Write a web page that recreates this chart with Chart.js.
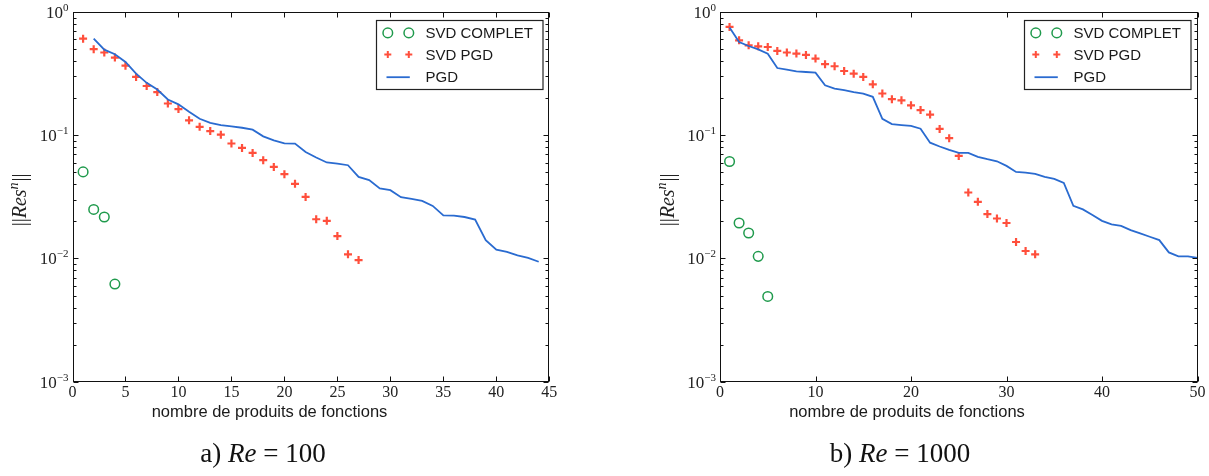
<!DOCTYPE html>
<html lang="fr">
<head>
<meta charset="UTF-8">
<title>Résidus SVD / PGD</title>
<script src="https://cdn.jsdelivr.net/npm/chart.js"></script>
<style>
    html, body { margin: 0; padding: 0; background: #fff; }
    body { width: 1209px; height: 476px; position: relative; overflow: hidden; }
    .panel { position: absolute; top: 0; height: 476px; }
    #panelA { left: 0; width: 600px; }
    #panelB { left: 600px; width: 609px; }
</style>
</head>
<body>

<div class="panel" id="panelA"><canvas id="chartA"></canvas></div>
<div class="panel" id="panelB"><canvas id="chartB"></canvas></div>

<script>
// a) Re = 100  (n starts at 1, PGD starts at 2)
const reA_svdComplet = [0.0504, 0.0250, 0.0217, 0.0062];
const reA_svdPgd = [0.608, 0.499, 0.469, 0.427, 0.367, 0.297, 0.251, 0.224, 0.181, 0.163,
                    0.132, 0.117, 0.108, 0.101, 0.0857, 0.0789, 0.0719, 0.0627, 0.0553, 0.0483,
                    0.0403, 0.0316, 0.0208, 0.0202, 0.0152, 0.0108, 0.0097];
const reA_pgd = [0.608, 0.495, 0.454, 0.393, 0.316, 0.266, 0.235, 0.195, 0.178, 0.155,
                 0.136, 0.126, 0.121, 0.118, 0.115, 0.111, 0.098, 0.091, 0.086, 0.0855,
                 0.0732, 0.0659, 0.0601, 0.0589, 0.0571, 0.0459, 0.0432, 0.0370, 0.0358, 0.0314,
                 0.0304, 0.0293, 0.0267, 0.0224, 0.0223, 0.0217, 0.0207, 0.0141, 0.0118, 0.0113,
                 0.0106, 0.0101, 0.0094];
const reA_pgdStart = 2;

// b) Re = 1000
const reB_svdComplet = [0.0612, 0.0194, 0.0161, 0.0104, 0.00492];
const reB_svdPgd = [0.756, 0.589, 0.537, 0.527, 0.520, 0.483, 0.469, 0.460, 0.448, 0.419,
                    0.377, 0.363, 0.332, 0.316, 0.297, 0.259, 0.218, 0.196, 0.192, 0.175,
                    0.160, 0.147, 0.1125, 0.0946, 0.0679, 0.0343, 0.0288, 0.0229, 0.0211, 0.0194,
                    0.0136, 0.0115, 0.0108];
const reB_pgd = [0.747, 0.571, 0.530, 0.498, 0.459, 0.351, 0.341, 0.330, 0.326, 0.322,
                 0.254, 0.239, 0.232, 0.224, 0.218, 0.205, 0.136, 0.123, 0.121, 0.119,
                 0.113, 0.087, 0.081, 0.0760, 0.0720, 0.0719, 0.0667, 0.0639, 0.0615, 0.0564,
                 0.0504, 0.0498, 0.0485, 0.0459, 0.0442, 0.0410, 0.0267, 0.0250, 0.0225, 0.0202,
                 0.0189, 0.0184, 0.0170, 0.0160, 0.0150, 0.0141, 0.0112, 0.0104, 0.0104, 0.0101];

const legendLabels = ['SVD COMPLET', 'SVD PGD', 'PGD'];
const yDecades = [0, -1, -2, -3];
const xTitle = 'nombre de produits de fonctions';

const GREEN = '#1f9a4c';
const RED = '#ff4f3c';
const BLUE = '#2a6bd0';
const SERIF = '"Liberation Serif", "DejaVu Serif", serif';
const SANS = '"Liberation Sans", Arial, sans-serif';

function pts(first, vals) {
    return vals.map((v, i) => ({ x: first + i, y: v }));
}

// axes box, inward ticks, tick labels with exponents, titles, legend
const decor = {
    id: 'decor',
    afterDraw(chart, args, o) {
        const ctx = chart.ctx;
        const a = chart.chartArea;
        const xs = chart.scales.x, ys = chart.scales.y;
        const L = Math.round(a.left) + 0.5, R = Math.round(a.right) - 0.5;
        const T = Math.round(a.top) + 0.5, B = Math.round(a.bottom) - 0.5;
        ctx.save();
        ctx.strokeStyle = '#111';
        ctx.lineWidth = 1;
        const seg = (x1, y1, x2, y2) => { ctx.beginPath(); ctx.moveTo(x1, y1); ctx.lineTo(x2, y2); ctx.stroke(); };

        for (let k = -3; k < 0; k++) {
            for (let m = 1; m < 10; m++) {
                const py = Math.round(ys.getPixelForValue(m * Math.pow(10, k))) + 0.5;
                const len = m === 1 ? 5 : 3;
                seg(L, py, L + len, py);
                seg(R - len, py, R, py);
            }
        }
        xs.ticks.forEach(t => {
            const px = Math.round(xs.getPixelForValue(t.value)) + 0.5;
            seg(px, B, px, B - 5);
            seg(px, T, px, T + 5);
        });
        ctx.strokeRect(L, T, R - L, B - T);

        // y tick labels 10^k
        ctx.fillStyle = '#222';
        ctx.textBaseline = 'alphabetic';
        ctx.textAlign = 'left';
        yDecades.forEach(k => {
            const py = ys.getPixelForValue(Math.pow(10, k));
            const exp = k === 0 ? '0' : '\u2212' + (-k);
            ctx.font = '11px ' + SERIF;
            const ew = ctx.measureText(exp).width;
            ctx.font = '17px ' + SERIF;
            const bw = ctx.measureText('10').width;
            const x0 = a.left - 4 - ew - bw;
            ctx.fillText('10', x0, py + 6);
            ctx.font = '11px ' + SERIF;
            ctx.fillText(exp, x0 + bw, py - 1);
        });

        // y title ||Res^n||
        ctx.save();
        ctx.translate(o.yTitleX, (a.top + a.bottom) / 2 + 3);
        ctx.rotate(-Math.PI / 2);
        const parts = [
            { t: '||', f: '20px ' + SERIF, dy: 0 },
            { t: 'Res', f: 'italic 20px ' + SERIF, dy: 0 },
            { t: 'n', f: 'italic 14px ' + SERIF, dy: -8 },
            { t: '||', f: '20px ' + SERIF, dy: 0 }
        ];
        let tw = 0;
        parts.forEach(p => { ctx.font = p.f; p.w = ctx.measureText(p.t).width + (p.t === 'n' ? 1 : 0); tw += p.w; });
        let cx = -tw / 2;
        parts.forEach(p => { ctx.font = p.f; ctx.fillText(p.t, cx, 7 + p.dy); cx += p.w; });
        ctx.restore();

        // x title
        ctx.font = '16.5px ' + SANS;
        ctx.textAlign = 'center';
        ctx.fillStyle = '#1a1a1a';
        ctx.fillText(xTitle, o.xTitleX, 416.5);

        // caption
        const cap = [
            { t: o.capLetter + ' ', f: '27px ' + SERIF },
            { t: 'Re', f: 'italic 27px ' + SERIF },
            { t: ' = ' + o.capRe, f: '27px ' + SERIF }
        ];
        let cw = 0;
        cap.forEach(p => { ctx.font = p.f; p.w = ctx.measureText(p.t).width; cw += p.w; });
        ctx.textAlign = 'left';
        ctx.fillStyle = '#111';
        let capX = o.capX - cw / 2;
        cap.forEach(p => { ctx.font = p.f; ctx.fillText(p.t, capX, 461.5); capX += p.w; });

        // legend box
        const bw = 166.5, bh = 69;
        const bx = Math.round(a.right - 7 - bw) + 0.5, by = Math.round(a.top + 7.5) + 0.5;
        ctx.fillStyle = '#fff';
        ctx.fillRect(bx, by, bw, bh);
        ctx.strokeStyle = '#222';
        ctx.lineWidth = 1.2;
        ctx.strokeRect(bx, by, bw, bh);
        const rows = [by + 12.4, by + 34, by + 56.7];
        const m1 = bx + 11.3, m2 = bx + 32.3;
        // circles
        ctx.strokeStyle = GREEN;
        ctx.lineWidth = 1.5;
        [m1, m2].forEach(mx => { ctx.beginPath(); ctx.arc(mx, rows[0], 4.8, 0, Math.PI * 2); ctx.stroke(); });
        // crosses
        ctx.strokeStyle = RED;
        ctx.lineWidth = 2;
        [m1, m2].forEach(mx => { seg(mx - 3.5, rows[1], mx + 3.5, rows[1]); seg(mx, rows[1] - 3.5, mx, rows[1] + 3.5); });
        // line
        ctx.strokeStyle = BLUE;
        ctx.lineWidth = 1.8;
        seg(bx + 10, rows[2], bx + 33.3, rows[2]);
        ctx.fillStyle = '#1a1a1a';
        ctx.font = '15px ' + SANS;
        ctx.textBaseline = 'middle';
        legendLabels.forEach((lab, i) => ctx.fillText(lab, bx + 49, rows[i] + 1));
        ctx.restore();
    }
};

function makeChart(id, sets, xMax, xStep, geom, deco) {
    return new Chart(document.getElementById(id), {
        type: 'scatter',
        data: {
            datasets: [
                {
                    label: legendLabels[0],
                    data: sets[0],
                    pointStyle: 'circle',
                    pointRadius: 4.8,
                    pointBorderWidth: 1.5,
                    borderColor: GREEN,
                    backgroundColor: 'rgba(0,0,0,0)',
                    order: 2
                },
                {
                    label: legendLabels[1],
                    data: sets[1],
                    pointStyle: 'cross',
                    pointRadius: 4,
                    pointBorderWidth: 2.2,
                    borderColor: RED,
                    backgroundColor: RED,
                    order: 1
                },
                {
                    label: legendLabels[2],
                    data: sets[2],
                    showLine: true,
                    pointRadius: 0,
                    borderColor: BLUE,
                    borderWidth: 1.8,
                    tension: 0,
                    order: 0
                }
            ]
        },
        options: {
            responsive: true,
            maintainAspectRatio: false,
            animation: false,
            layout: { padding: { top: 12, right: geom.right, left: 0, bottom: 0 } },
            plugins: {
                legend: { display: false },
                tooltip: { enabled: false },
                decor: deco
            },
            scales: {
                x: {
                    type: 'linear',
                    min: 0,
                    max: xMax,
                    grid: { display: false, drawTicks: false },
                    border: { display: false },
                    ticks: {
                        stepSize: xStep,
                        padding: 1,
                        color: '#222',
                        font: { family: SERIF, size: 16 }
                    },
                    afterFit(s) { s.height = 476 - 381.7; }
                },
                y: {
                    type: 'logarithmic',
                    min: 0.001,
                    max: 1,
                    grid: { display: false, drawTicks: false },
                    border: { display: false },
                    ticks: { display: false },
                    afterFit(s) { s.width = geom.left; }
                }
            }
        },
        plugins: [decor]
    });
}

makeChart('chartA',
    [pts(1, reA_svdComplet), pts(1, reA_svdPgd), pts(reA_pgdStart, reA_pgd)],
    45, 5,
    { left: 72.5, right: 600 - 549.3 },
    { yTitleX: 19, xTitleX: 269.5, capX: 263, capLetter: 'a)', capRe: '100' });

makeChart('chartB',
    [pts(1, reB_svdComplet), pts(1, reB_svdPgd), pts(1, reB_pgd)],
    50, 10,
    { left: 120, right: 609 - 597.5 },
    { yTitleX: 67, xTitleX: 307, capX: 300, capLetter: 'b)', capRe: '1000' });
</script>
</body>
</html>
